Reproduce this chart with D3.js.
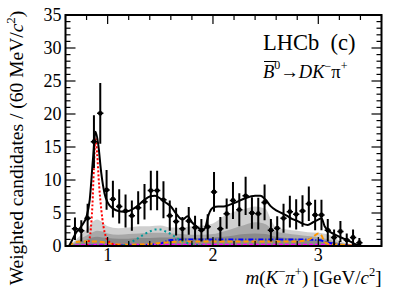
<!DOCTYPE html>
<html>
<head>
<meta charset="utf-8">
<script src="https://cdn.jsdelivr.net/npm/d3@7"></script>
<style>
  body { margin: 0; background: #fff; }
  text { font-family: "Liberation Serif", "Times New Roman", serif; fill: #000; }
</style>
</head>
<body>
<svg id="chart" width="410" height="294"></svg>
<script>
// data points: bin centres (GeV/c^2), weighted yields, errors
var binCentres = [0.69,0.75,0.81,0.87,0.93,0.99,1.05,1.11,1.17,1.23,1.29,1.35,1.41,1.47,1.53,1.59,1.65,1.71,1.77,1.83,
  1.89,1.95,2.01,2.07,2.13,2.19,2.25,2.31,2.37,2.43,2.49,2.55,2.61,2.67,2.73,2.79,2.85,2.91,2.97,3.03,3.09,3.15,3.21,3.27,3.33,3.39];
var yields = [2.6,2.3,4.2,15.8,20.1,8.5,7.1,6.0,5.3,4.6,5.8,6.7,8.4,8.4,7.0,4.6,3.7,2.6,3.8,2.8,
  2.4,2.9,8.2,2.6,4.9,6.9,5.5,7.6,5.0,4.9,6.6,2.4,2.7,4.2,5.2,4.8,5.3,6.4,4.7,4.7,2.4,1.3,2.2,0.9,1.3,0.5];
var errors = [1.7,1.6,2.2,4.0,4.6,3.0,2.8,2.6,2.5,2.3,2.5,2.7,3.0,3.0,2.8,2.3,2.1,1.8,2.1,1.8,
  1.7,1.9,3.0,1.8,2.3,2.8,2.5,2.9,2.4,2.4,2.7,1.7,1.8,2.2,2.4,2.3,2.4,2.6,2.3,2.3,1.7,1.2,1.6,1.0,1.2,0.7];

// total fit
var fitX = [0.633,0.66,0.70,0.75,0.80,0.83,0.86,0.885,0.91,0.94,0.97,1.0,1.05,1.1,1.15,1.2,1.25,1.3,1.35,1.4,1.45,1.5,1.55,
  1.6,1.65,1.71,1.76,1.80,1.85,1.89,1.92,1.96,2.0,2.05,2.1,2.15,2.2,2.3,2.4,2.45,2.5,2.55,2.6,2.65,2.7,2.75,2.8,2.85,2.9,
  2.95,3.0,3.03,3.06,3.09,3.15,3.2,3.3,3.37,3.415];
var fitY = [0,0.8,2.0,3.0,4.5,7,13,17.3,15.5,11,8,6.6,5.7,5.3,5.2,5.3,5.7,6.3,7.0,7.5,7.6,7.2,6.6,
  6.0,4.9,4.0,4.5,3.6,2.9,2.5,2.6,4.8,5.8,6.0,6.0,6.2,6.5,7.2,7.6,7.6,7.0,6.0,5.4,5.0,4.6,4.1,3.8,3.4,3.2,
  3.6,4.0,4.2,3.0,2.4,1.8,1.4,0.7,0.15,0];

// K*(892) component (red dotted)
var kstX = [0.80,0.82,0.84,0.855,0.87,0.885,0.90,0.92,0.94,0.96,0.98,1.0,1.05,1.1,1.15];
var kstY = [0.1,0.6,2.5,6,12,16.3,14,9,5.5,3.0,1.6,0.9,0.3,0.1,0];

// K*(1430) component (teal dotted)
var k2X = [1.15,1.2,1.25,1.3,1.35,1.4,1.45,1.5,1.55,1.6,1.65,1.7,1.75,1.8,1.9];
var k2Y = [0.1,0.4,0.8,1.3,1.8,2.2,2.5,2.5,2.2,1.8,1.3,0.8,0.5,0.3,0.1];

// orange dashed component
var orX = [0.633,0.68,0.75,0.85,0.95,1.05,1.2,1.4,1.6,1.8,2.0,2.2,2.4,2.6,2.8,2.9,2.96,3.0,3.03,3.06,3.1,3.2,3.415];
var orY = [0,0.5,0.7,0.7,0.6,0.3,0.2,0.3,0.6,0.7,0.7,0.7,0.7,0.7,0.7,0.9,1.5,1.9,1.6,0.6,0.3,0.2,0];

// blue dash-dot component
var blX = [0.633,1.0,1.3,1.5,1.6,1.8,2.0,2.4,2.8,3.0,3.1,3.2,3.415];
var blY = [0,0.05,0.1,0.4,0.9,1.0,1.0,1.0,1.0,0.9,0.5,0.2,0];

// magenta component
var mgX = [0.633,0.8,1.2,1.6,2.0,2.4,2.8,3.2,3.415];
var mgY = [0,0.15,0.2,0.2,0.2,0.2,0.2,0.15,0];

// stacked background shapes (cumulative tops)
var bgX = [0.633,0.7,0.8,0.85,0.9,0.95,1.0,1.1,1.2,1.3,1.4,1.5,1.6,1.7,1.8,1.9,2.0,2.1,2.2,2.3,2.4,2.5,2.55,2.6,2.7,2.8,2.9,3.0,3.1,3.2,3.3,3.415];
var bgLight = [0,1.0,2.5,3.5,4.0,3.6,3.0,2.7,2.8,3.0,3.0,3.1,2.8,2.8,3.0,3.1,3.4,4.5,5.2,5.6,6.0,5.6,4.0,2.8,2.5,2.3,2.1,2.0,1.7,0.8,0.3,0];
var bgMid = [0,0.7,1.6,2.0,2.3,2.2,1.9,1.7,1.8,1.9,2.0,2.0,1.9,1.8,1.7,1.7,1.8,2.2,2.7,3.2,3.6,3.3,2.7,2.2,1.9,1.7,1.5,1.3,1.0,0.5,0.2,0];
var bgDark = [0,0.4,1.0,1.3,1.4,1.3,1.2,1.1,1.1,1.2,1.2,1.3,1.3,1.3,1.2,1.2,1.3,1.4,1.6,1.8,1.9,1.8,1.6,1.4,1.2,1.1,1.0,0.9,0.7,0.4,0.1,0];

var yTicks = [0,5,10,15,20,25,30,35];
var xTicks = [1,2,3];

var svg = d3.select("#chart");
var L = 65.5, R = 381.5, T = 15, B = 246;
var x = d3.scaleLinear().domain([0.6, 3.6]).range([L, R]);
var y = d3.scaleLinear().domain([0, 35]).range([B, T]);

var plot = svg.append("g");
plot.append("clipPath").attr("id", "clip").append("rect")
  .attr("x", L).attr("y", T).attr("width", R - L).attr("height", B - T);
var inner = plot.append("g").attr("clip-path", "url(#clip)");

function pts(xs, ys) { return xs.map(function (v, i) { return [v, ys[i]]; }); }

var area = d3.area().x(function (d) { return x(d[0]); }).y0(y(0)).y1(function (d) { return y(d[1]); }).curve(d3.curveMonotoneX);
inner.append("path").attr("d", area(pts(bgX, bgLight))).attr("fill", "#cfcfcf");
inner.append("path").attr("d", area(pts(bgX, bgMid))).attr("fill", "#a8a8a8");
inner.append("path").attr("d", area(pts(bgX, bgDark))).attr("fill", "#8a8a8a");

var line = d3.line().x(function (d) { return x(d[0]); }).y(function (d) { return y(d[1]); }).curve(d3.curveMonotoneX);

inner.append("path").attr("d", line(pts(mgX, mgY))).attr("fill", "none")
  .attr("stroke", "#ff00ff").attr("stroke-width", 2).attr("stroke-dasharray", "4,2");
inner.append("path").attr("d", line(pts(blX, blY))).attr("fill", "none")
  .attr("stroke", "#0000ff").attr("stroke-width", 2).attr("stroke-dasharray", "5,2,1,2");
inner.append("path").attr("d", line(pts(orX, orY))).attr("fill", "none")
  .attr("stroke", "#ff9900").attr("stroke-width", 2).attr("stroke-dasharray", "5,3");
inner.append("path").attr("d", line(pts(k2X, k2Y))).attr("fill", "none")
  .attr("stroke", "#009999").attr("stroke-width", 2).attr("stroke-dasharray", "2,3");
inner.append("path").attr("d", line(pts(kstX, kstY))).attr("fill", "none")
  .attr("stroke", "#ff0000").attr("stroke-width", 2).attr("stroke-dasharray", "2,2");
inner.append("path").attr("d", line(pts(fitX, fitY))).attr("fill", "none")
  .attr("stroke", "#000").attr("stroke-width", 2);

// data points
var dp = inner.append("g").selectAll("g").data(binCentres).enter().append("g");
dp.append("line")
  .attr("x1", function (d) { return x(d); }).attr("x2", function (d) { return x(d); })
  .attr("y1", function (d, i) { return y(yields[i] - errors[i]); })
  .attr("y2", function (d, i) { return y(yields[i] + errors[i]); })
  .attr("stroke", "#000").attr("stroke-width", 2);
dp.append("line")
  .attr("x1", function (d) { return x(d - 0.03); }).attr("x2", function (d) { return x(d + 0.03); })
  .attr("y1", function (d, i) { return y(yields[i]); }).attr("y2", function (d, i) { return y(yields[i]); })
  .attr("stroke", "#000").attr("stroke-width", 1.5);
dp.append("circle")
  .attr("cx", function (d) { return x(d); }).attr("cy", function (d, i) { return y(yields[i]); })
  .attr("r", 2.4).attr("fill", "#000");

// ticks (inside, on all four sides)
var tk = plot.append("g").attr("stroke", "#000").attr("stroke-width", 1.2);
d3.range(0, 36, 1).forEach(function (v) {
  var len = v % 5 === 0 ? 10 : 5;
  tk.append("line").attr("x1", L).attr("x2", L + len).attr("y1", y(v)).attr("y2", y(v));
  tk.append("line").attr("x1", R).attr("x2", R - len).attr("y1", y(v)).attr("y2", y(v));
});
d3.range(0.6, 3.61, 0.2).forEach(function (v) {
  var major = Math.abs(v - Math.round(v)) < 1e-6;
  var len = major ? 9 : 5;
  tk.append("line").attr("x1", x(v)).attr("x2", x(v)).attr("y1", B).attr("y2", B - len);
  tk.append("line").attr("x1", x(v)).attr("x2", x(v)).attr("y1", T).attr("y2", T + len);
});

plot.append("rect").attr("x", L).attr("y", T).attr("width", R - L).attr("height", B - T)
  .attr("fill", "none").attr("stroke", "#000").attr("stroke-width", 2);

// tick labels
svg.append("g").selectAll("text").data(yTicks).enter().append("text")
  .attr("x", L - 4).attr("y", function (d) { return y(d) + 6; })
  .attr("text-anchor", "end").attr("font-size", 18).text(function (d) { return d; });
svg.append("g").selectAll("text").data(xTicks).enter().append("text")
  .attr("x", function (d) { return x(d); }).attr("y", 261)
  .attr("text-anchor", "middle").attr("font-size", 18).text(function (d) { return d; });

// axis titles
var yl = svg.append("text").attr("transform", "translate(23,148) rotate(-90)")
  .attr("text-anchor", "middle").attr("font-size", 19.5);
yl.append("tspan").text("Weighted candidates / (60 MeV/");
yl.append("tspan").attr("font-style", "italic").text("c");
yl.append("tspan").attr("font-size", 13).attr("dy", -8).text("2");
yl.append("tspan").attr("dy", 8).text(")");

var xl = svg.append("text").attr("x", R).attr("y", 284).attr("text-anchor", "end").attr("font-size", 19);
xl.append("tspan").attr("font-style", "italic").text("m");
xl.append("tspan").text("(");
xl.append("tspan").attr("font-style", "italic").text("K");
xl.append("tspan").attr("font-size", 12.5).attr("dy", -8).text("−");
xl.append("tspan").attr("dy", 8).attr("font-style", "italic").text("π");
xl.append("tspan").attr("font-size", 12.5).attr("dy", -8).text("+");
xl.append("tspan").attr("dy", 8).text(") [GeV/");
xl.append("tspan").attr("font-style", "italic").text("c");
xl.append("tspan").attr("font-size", 12.5).attr("dy", -8).text("2");
xl.append("tspan").attr("dy", 8).text("]");

// labels
svg.append("text").attr("x", 263).attr("y", 50).attr("font-size", 22.5).text("LHCb  (c)").style("white-space", "pre");
var dec = svg.append("text").attr("x", 263).attr("y", 78).attr("font-size", 18.5);
dec.append("tspan").attr("font-style", "italic").text("B");
dec.append("tspan").attr("font-size", 12).attr("dy", -9).text("0");
dec.append("tspan").attr("dy", 9).text("→");
dec.append("tspan").attr("font-style", "italic").text("DK");
dec.append("tspan").attr("font-size", 12).attr("dy", -8).text("−");
dec.append("tspan").attr("dy", 8).text("π");
dec.append("tspan").attr("font-size", 12).attr("dy", -8).text("+");
svg.append("line").attr("x1", 264).attr("x2", 276).attr("y1", 61.5).attr("y2", 61.5)
  .attr("stroke", "#000").attr("stroke-width", 1);
</script>
</body>
</html>
